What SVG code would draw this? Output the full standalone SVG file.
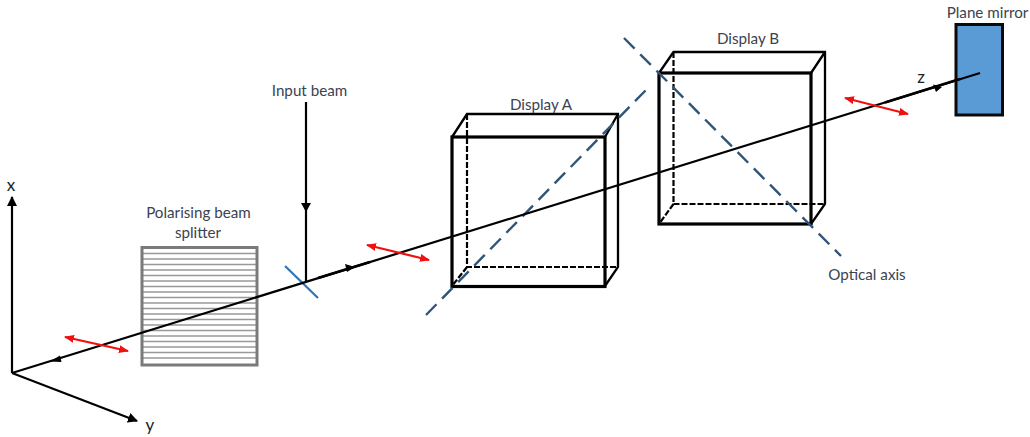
<svg xmlns="http://www.w3.org/2000/svg" width="1030" height="437" viewBox="0 0 1030 437">
<style>
text{font-family:"Lato","Liberation Sans",sans-serif;font-size:15.2px;fill:#3b4250;text-anchor:middle}
.ax{font-size:17px;fill:#222}
.l{fill:none;stroke:#000;stroke-width:2.2}
.thick{fill:none;stroke:#000;stroke-width:3.2}
.thin{fill:none;stroke:#000;stroke-width:2.3}
.dash{fill:none;stroke:#000;stroke-width:2.2;stroke-dasharray:6 2}
.opt{fill:none;stroke:#2f5578;stroke-width:2.4;stroke-dasharray:15 8}
.red{fill:none;stroke:#f01010;stroke-width:2.2;marker-start:url(#r);marker-end:url(#r)}
.h{fill:#000}
.grid{stroke:#999;stroke-width:1.4}
</style>
<defs>
<marker id="r" viewBox="0 0 10 8" refX="9" refY="4" markerWidth="10" markerHeight="8" markerUnits="userSpaceOnUse" orient="auto-start-reverse"><path d="M0 0L10 4L0 8Z" fill="#f01010"/></marker>
<marker id="k" viewBox="0 0 10 10" refX="9" refY="5" markerWidth="10" markerHeight="10" markerUnits="userSpaceOnUse" orient="auto"><path d="M0 0L10 5L0 10Z" fill="#000"/></marker>
</defs>
<g id="splitter">
<rect x="142" y="247.5" width="115" height="117.5" fill="#fff"/>
<g class="grid">
<path d="M143 253.500H256M143 259H256M143 264.500H256M143 270H256M143 275.500H256M143 281H256M143 286.500H256M143 292H256M143 297.500H256M143 303H256M143 308.500H256M143 314H256M143 319.500H256M143 325H256M143 330.500H256M143 336H256M143 341.500H256M143 347H256M143 352.500H256M143 358H256"/>
</g>
<rect x="142" y="247.500" width="115" height="117.500" fill="none" stroke="#7a7a7a" stroke-width="3"/>
<text x="198.500" y="218">Polarising beam</text>
<text x="198" y="238">splitter</text>
</g>
<g id="display-a">
<path class="dash" d="M467 114V267H618M467 267L452 286"/>
<path class="thin" d="M452 137L467 114H618V267L605 286M605 137L618 114"/>
<rect class="thick" x="452" y="137" width="153" height="149.500"/>
<text x="541" y="110">Display A</text>
</g>
<g id="display-b">
<path class="dash" d="M673.500 52V204H825M673.500 204L659 224"/>
<path class="thin" d="M659 73L673.500 52H825V204L811 224M811 73L825 52"/>
<rect class="thick" x="659" y="73" width="152" height="151"/>
<text x="748" y="44">Display B</text>
</g>
<g id="mirror">
<rect x="956" y="24.500" width="46.500" height="90.500" fill="#5b9bd5" stroke="#0a0a0a" stroke-width="3"/>
<text x="987.500" y="18">Plane mirror</text>
</g>
<g id="connectors">
<path class="opt" d="M426 315L646 90"/>
<path class="opt" d="M624 38L841 256"/>
<path d="M285 266L318 298" fill="none" stroke="#2e75b6" stroke-width="2.2"/>
<path class="l" d="M12 373L12 197" marker-end="url(#k)"/>
<path class="l" d="M12 373L137 421" marker-end="url(#k)"/>
<path class="l" d="M12 373L980 73"/>
<path d="M885 102.500L960 79M318 278L370 262" fill="none" stroke="#000" stroke-width="2.8"/>
<path class="l" d="M306 102V282"/>
<path class="h" d="M301 203H311L306 212Z"/>
<path class="h" d="M50 361.500L60 355.500L61.500 362Z"/>
<path class="h" d="M355 267L345 264L347 272Z"/>
<path class="h" d="M942 87L933 84.500L936 92Z"/>
<path class="red" d="M65 337L128 351"/>
<path class="red" d="M367 245L429 260"/>
<path class="red" d="M845 98L908 114"/>
</g>
<g id="labels">
<text class="ax" x="11" y="191">x</text>
<text class="ax" x="150" y="431">y</text>
<text class="ax" x="921" y="83">z</text>
<text x="309.500" y="96">Input beam</text>
<text x="867" y="280">Optical axis</text>
</g>
</svg>
